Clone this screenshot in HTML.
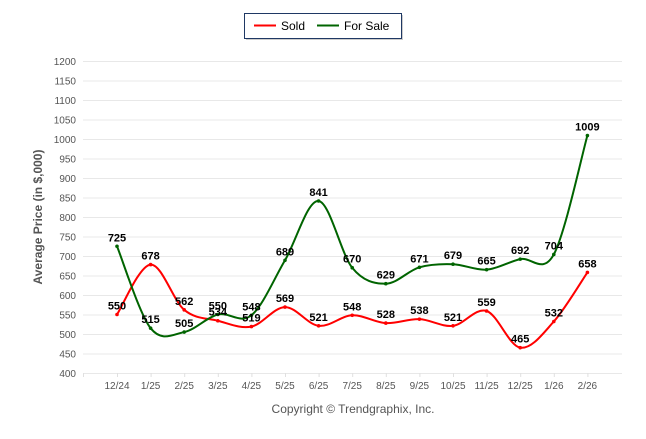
<!DOCTYPE html>
<html><head><meta charset="utf-8"><style>
body{margin:0;background:#fff;font-family:"Liberation Sans",sans-serif}
svg text{font-family:"Liberation Sans",sans-serif}
</style></head><body>
<svg id="c" width="646" height="434">
<g>
<rect x="246" y="15" width="157" height="25" fill="#ccc"/>
<rect x="244.5" y="13.5" width="157" height="25" fill="#fff" stroke="#1f3864" stroke-width="1"/>
<line x1="254" y1="25.5" x2="276" y2="25.5" stroke="#ff0000" stroke-width="2"/>
<text x="281" y="30" font-size="12" fill="#000">Sold</text>
<line x1="317" y1="25.5" x2="339" y2="25.5" stroke="#006400" stroke-width="2"/>
<text x="344" y="30" font-size="12" fill="#000">For Sale</text>
</g>
<g id="grid"></g>
<g id="yt"></g>
<g id="xt"></g>
<g id="series"></g>
<g id="labels"></g>
<text transform="translate(42,217) rotate(-90)" text-anchor="middle" font-size="12" font-weight="bold" fill="#555">Average Price (in $,000)</text>
<text x="353" y="413" text-anchor="middle" font-size="12" fill="#555">Copyright © Trendgraphix, Inc.</text>
</svg>
<script>
const categories=["12/24","1/25","2/25","3/25","4/25","5/25","6/25","7/25","8/25","9/25","10/25","11/25","12/25","1/26","2/26"];
const soldValues=[550,678,562,534,519,569,521,548,528,538,521,559,465,532,658];
const forSaleValues=[725,515,505,550,548,689,841,670,629,671,679,665,692,704,1009];
const yTicks=[400,450,500,550,600,650,700,750,800,850,900,950,1000,1050,1100,1150,1200];
const NS="http://www.w3.org/2000/svg";
const X0=117,DX=33.6,PL=83,PR=622;
const xs=i=>X0+i*DX;
const ys=v=>373-(v-400)*312/800;
function mk(tag,attrs,parent,text){const e=document.createElementNS(NS,tag);for(const k in attrs)e.setAttribute(k,attrs[k]);if(text!==undefined)e.textContent=text;document.getElementById(parent).appendChild(e);return e;}
yTicks.forEach(v=>{
 const l=mk('line',{x1:PL,x2:PR,y1:ys(v)+0.5,y2:ys(v)+0.5,stroke:'#e8e8e8','stroke-width':1},'grid');
 
 
 const t=mk('text',{x:76,y:ys(v)+4,'text-anchor':'end','font-size':10,fill:'#555'},'yt',String(v));
 
 
});
categories.forEach((c,i)=>{
 const t=mk('text',{x:xs(i),y:389,'text-anchor':'middle','font-size':10,fill:'#555'},'xt',c);
 
 
 const k=mk('line',{x1:xs(i)+0.5,x2:xs(i)+0.5,y1:373,y2:377,stroke:'#e0e0e0'},'xt');
 
 
});
mk('line',{x1:PL+0.5,x2:PL+0.5,y1:373,y2:377,stroke:'#e0e0e0'},'xt');
function path(vals){
 const p=vals.map((v,i)=>[xs(i),ys(v)]);
 let d='M'+p[0][0]+','+p[0][1];
 for(let i=0;i<p.length-1;i++){
  const p0=p[i-1]||p[i],p1=p[i],p2=p[i+1],p3=p[i+2]||p2;
  const t=6;
  d+=' C'+(p1[0]+(p2[0]-p0[0])/t)+','+(p1[1]+(p2[1]-p0[1])/t)+' '+(p2[0]-(p3[0]-p1[0])/t)+','+(p2[1]-(p3[1]-p1[1])/t)+' '+p2[0]+','+p2[1];
 }
 return d;
}
[[soldValues,'#ff0000','sold'],[forSaleValues,'#006400','for-sale']].forEach(([vals,col,name])=>{
 const pa=mk('path',{d:path(vals),fill:'none',stroke:col,'stroke-width':2},'series');
 
 
 vals.forEach((v,i)=>{
  const c=mk('circle',{cx:xs(i),cy:ys(v),r:1.8,fill:col},'series');
  
  
  const t=mk('text',{x:xs(i),y:ys(v)-5,'text-anchor':'middle','font-size':11,'font-weight':'bold',fill:'#000'},'labels',String(v));
  
  
 });
});
</script>
</body></html>
